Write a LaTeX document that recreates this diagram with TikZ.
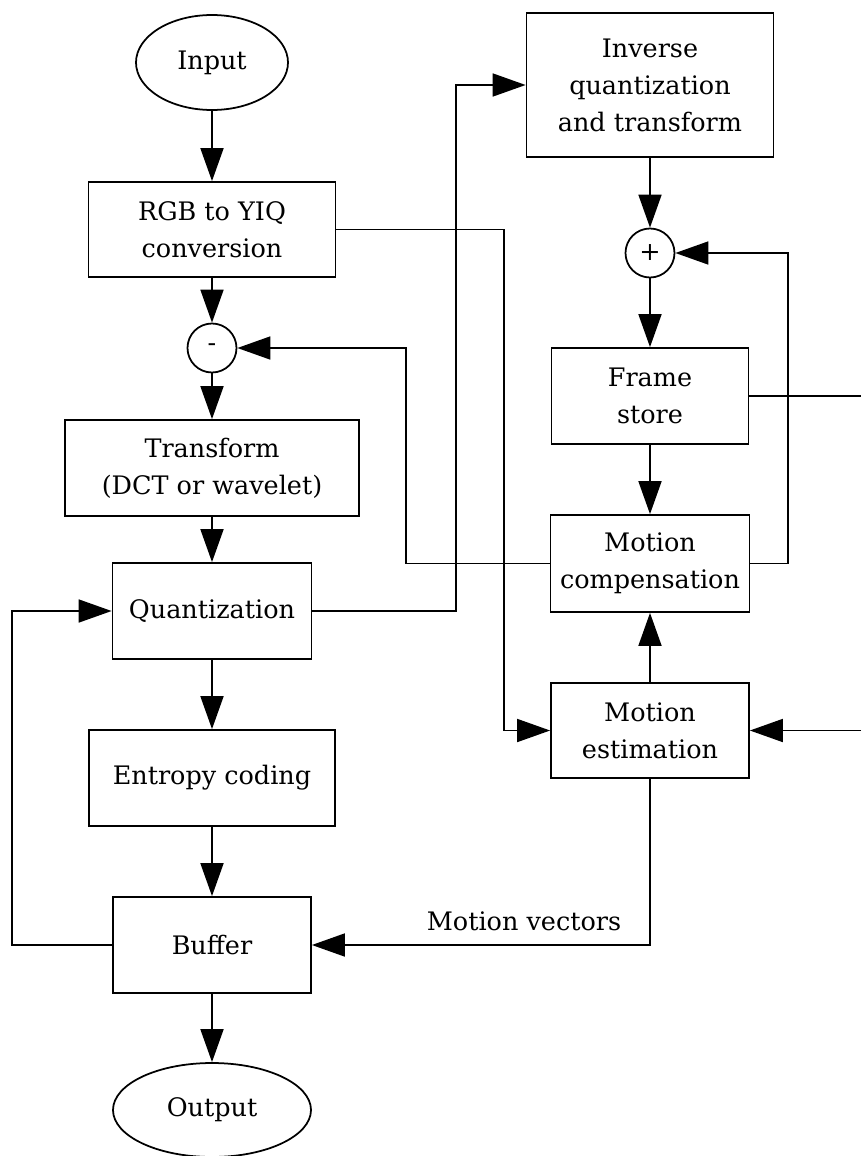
\documentclass[tikz,border=0pt]{standalone}
\usepackage{fontspec}
\setmainfont{DejaVu Serif}
\usetikzlibrary{shapes.geometric,arrows.meta,positioning,calc}

\begin{document}
\begin{tikzpicture}[
  line width=1pt,
  txt/.style={font=\fontsize{14.5}{21}\selectfont, align=center},
  blk/.style={txt, draw, rectangle, inner sep=2pt},
  oval/.style={txt, draw, ellipse, inner sep=0pt},
  sumpt/.style={txt, draw, circle, minimum size=0.98cm, inner sep=0pt},
  arr/.style={-{Triangle[length=0.66cm,width=0.46cm]}}
]
\useasboundingbox (0,0) rectangle (17.22,-23.12);

% left column
\node[oval, minimum width=3.04cm, minimum height=1.9cm] (inp) at (4.24,-1.25) {Input};
\node[blk, minimum width=4.94cm, minimum height=1.9cm] (rgb) at (4.24,-4.59) {RGB to YIQ\\conversion};
\node[sumpt] (minus) at (4.24,-6.96) {-};
\node[blk, minimum width=5.88cm, minimum height=1.92cm] (trans) at (4.24,-9.36) {Transform\\(DCT or wavelet)};
\node[blk, minimum width=3.98cm, minimum height=1.92cm] (quant) at (4.24,-12.22) {Quantization};
\node[blk, minimum width=4.92cm, minimum height=1.92cm] (entropy) at (4.24,-15.56) {Entropy coding};
\node[blk, minimum width=3.96cm, minimum height=1.92cm] (buffer) at (4.24,-18.9) {Buffer};
\node[oval, minimum width=3.96cm, minimum height=1.88cm] (outp) at (4.24,-22.2) {Output};

% right column
\node[blk, minimum width=4.94cm, minimum height=2.88cm] (inv) at (13.0,-1.7) {Inverse\\quantization\\and transform};
\node[sumpt] (plus) at (13.0,-5.06) {+};
\node[blk, minimum width=3.94cm, minimum height=1.92cm] (frame) at (13.0,-7.92) {Frame\\store};
\node[blk, minimum width=3.98cm, minimum height=1.94cm] (mc) at (13.0,-11.27) {Motion\\compensation};
\node[blk, minimum width=3.96cm, minimum height=1.9cm] (me) at (13.0,-14.61) {Motion\\estimation};
\node[txt] (mvtext) at (10.48,-18.42) {Motion vectors};

\coordinate (frameout) at (17.22,-7.92);
\coordinate (mein) at (17.22,-14.61);

% straight flow
\draw[arr] (inp) -- (rgb);
\draw[arr] (rgb) -- (minus);
\draw[arr] (minus) -- (trans);
\draw[arr] (trans) -- (quant);
\draw[arr] (quant) -- (entropy);
\draw[arr] (entropy) -- (buffer);
\draw[arr] (buffer) -- (outp);
\draw[arr] (inv) -- (plus);
\draw[arr] (plus) -- (frame);
\draw[arr] (frame) -- (mc);
\draw[arr] (me) -- (mc);

% loops
\draw[arr] (rgb.east) -- ++(3.35,0) |- (me.west);
\draw[arr] (quant.east) -- ++(2.87,0) |- (inv.west);
\draw[arr] (mc.west) -- ++(-2.87,0) |- (minus.east);
\draw[arr] (mc.east) -- ++(0.75,0) |- (plus.east);
\draw (frame.east) -- (frameout);
\draw[arr] (mein) -- (me.east);
\draw[arr] (buffer.west) -- ++(-2.0,0) |- (quant.west);
\draw[arr] (me.south) |- (buffer.east);
\end{tikzpicture}
\end{document}
